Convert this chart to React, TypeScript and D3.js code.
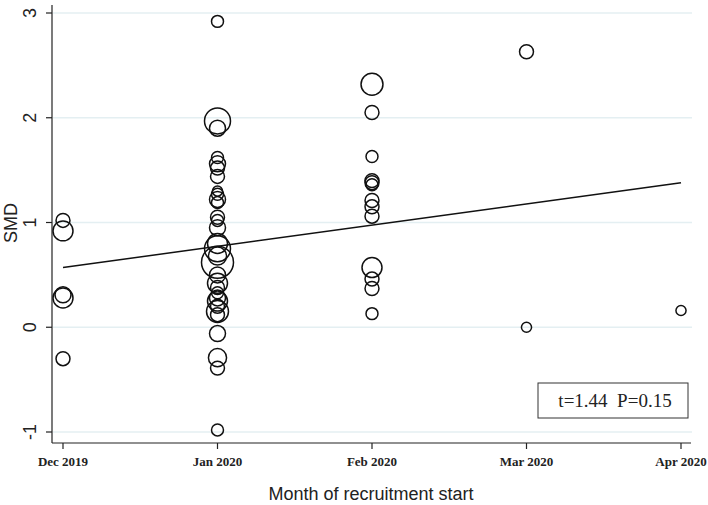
import React from "react";
import * as d3 from "d3";

const months = ["Dec 2019", "Jan 2020", "Feb 2020", "Mar 2020", "Apr 2020"];
const yTicks = [-1, 0, 1, 2, 3];

// [month index, SMD, weight]
const decPoints: [number, number, number][] = [
  [0, 1.02, 19], [0, 0.92, 39], [0, 0.31, 25], [0, 0.28, 39], [0, -0.3, 19],
];
const janPoints: [number, number, number][] = [
  [1, 2.92, 14], [1, 1.97, 66], [1, 1.9, 25], [1, 1.62, 14], [1, 1.56, 25],
  [1, 1.52, 19], [1, 1.44, 19], [1, 1.3, 10], [1, 1.27, 14], [1, 1.22, 25],
  [1, 1.19, 14], [1, 1.05, 19], [1, 1.02, 14], [1, 0.95, 25], [1, 0.8, 39],
  [1, 0.75, 66], [1, 0.68, 32], [1, 0.62, 100], [1, 0.5, 25], [1, 0.42, 39],
  [1, 0.38, 19], [1, 0.33, 14], [1, 0.28, 25], [1, 0.25, 39], [1, 0.2, 19],
  [1, 0.15, 47], [1, 0.12, 19], [1, -0.06, 25], [1, -0.29, 32], [1, -0.39, 19],
  [1, -0.98, 14],
];
const febPoints: [number, number, number][] = [
  [2, 2.32, 47], [2, 2.05, 19], [2, 1.63, 14], [2, 1.4, 19], [2, 1.38, 19],
  [2, 1.36, 14], [2, 1.21, 19], [2, 1.15, 19], [2, 1.06, 19], [2, 0.57, 39],
  [2, 0.46, 19], [2, 0.37, 19], [2, 0.13, 14],
];
const marPoints: [number, number, number][] = [[3, 2.63, 19], [3, 0.0, 10]];
const aprPoints: [number, number, number][] = [[4, 0.16, 10]];

const fitIntercept = 0.57;
const fitSlope = 0.2025;
const annotation = "t=1.44  P=0.15";

export default function App() {
  const W = 708, H = 505;
  const axisX = 52, axisY = 443;
  const x = d3.scaleLinear().domain([0, 4]).range([63, 681]);
  const y = d3.scaleLinear().domain([-1, 3]).range([432, 13]);
  const r = d3.scaleSqrt().domain([0, 100]).range([0, 16]);
  const pts = [...decPoints, ...janPoints, ...febPoints, ...marPoints, ...aprPoints];
  const line = d3.line<number>().x((d) => x(d)).y((d) => y(fitIntercept + fitSlope * d));
  const sans = "'Liberation Sans', Arial, sans-serif";
  const serif = "'Liberation Serif', 'Times New Roman', serif";
  return (
    <div style={{ position: "absolute", left: 0, top: 0 }}>
      <svg width={W} height={H} style={{ display: "block", background: "#fff" }}>
        {yTicks.map((t) => (
          <line key={"g" + t} x1={axisX + 1} x2={692} y1={y(t)} y2={y(t)} stroke="#e4eff2" strokeWidth={1.5} />
        ))}
        <line x1={axisX} x2={axisX} y1={5} y2={axisY} stroke="#222" strokeWidth={1.2} />
        <line x1={axisX} x2={691} y1={axisY} y2={axisY} stroke="#222" strokeWidth={1.2} />
        {yTicks.map((t) => (
          <g key={"t" + t}>
            <line x1={axisX - 6} x2={axisX} y1={y(t)} y2={y(t)} stroke="#222" strokeWidth={1.2} />
            <text transform={`translate(36,${y(t)}) rotate(-90)`} textAnchor="middle" fontFamily={sans} fontSize={18} fill="#222">
              {t}
            </text>
          </g>
        ))}
        {months.map((m, i) => (
          <g key={m}>
            <line x1={x(i)} x2={x(i)} y1={axisY} y2={axisY + 6} stroke="#222" strokeWidth={1.2} />
            <text x={x(i)} y={466} textAnchor="middle" fontFamily={serif} fontWeight="bold" fontSize={13} fill="#222">
              {m}
            </text>
          </g>
        ))}
        <text transform={`translate(17,223) rotate(-90)`} textAnchor="middle" fontFamily={sans} fontSize={18} fill="#222">
          SMD
        </text>
        <text x={371} y={500} textAnchor="middle" fontFamily={sans} fontSize={18} fill="#222">
          Month of recruitment start
        </text>
        {pts.map((p, i) => (
          <circle key={i} cx={x(p[0])} cy={y(p[1])} r={r(p[2])} fill="none" stroke="#111" strokeWidth={1.5} />
        ))}
        <path d={line([0, 4]) || ""} fill="none" stroke="#111" strokeWidth={1.5} />
        <rect x={538} y={383} width={150} height={35} fill="#fff" stroke="#333" strokeWidth={1} />
        <text x={615} y={407} textAnchor="middle" fontFamily={serif} fontSize={19} fill="#222" style={{ whiteSpace: "pre" }}>
          {annotation}
        </text>
      </svg>
    </div>
  );
}
